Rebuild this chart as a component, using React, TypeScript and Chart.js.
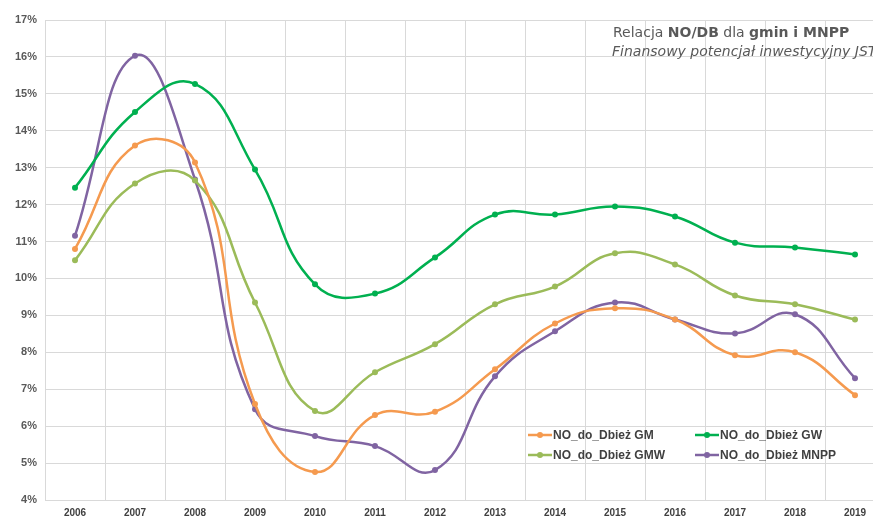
import React, { useEffect, useRef } from "react";
import { Chart, registerables } from "chart.js";

Chart.register(...registerables);

const years = ["2006","2007","2008","2009","2010","2011","2012","2013","2014","2015","2016","2017","2018","2019"];
const gm = [10.8, 13.6, 13.14, 6.6, 4.76, 6.3, 6.39, 7.54, 8.78, 9.19, 8.89, 7.92, 8.0, 6.84];
const gw = [12.46, 14.51, 15.27, 12.95, 9.84, 9.59, 10.57, 11.73, 11.73, 11.95, 11.68, 10.97, 10.84, 10.65];
const gmw = [10.49, 12.57, 12.65, 9.35, 6.41, 7.46, 8.22, 9.3, 9.78, 10.68, 10.38, 9.54, 9.3, 8.89];
const mnpp = [11.16, 16.03, 12.68, 6.46, 5.73, 5.46, 4.81, 7.35, 8.57, 9.35, 8.89, 8.51, 9.03, 7.3];

const seriesNames = ["NO_do_Dbież GM", "NO_do_Dbież GW", "NO_do_Dbież GMW", "NO_do_Dbież MNPP"];
const seriesColors = ["#F59A4F", "#00B050", "#9BBB59", "#8064A2"];
const titleParts: [string, boolean][] = [["Relacja ", false], ["NO/DB", true], [" dla ", false], ["gmin i MNPP", true]];
const subtitle = "Finansowy potencjał inwestycyjny JST";

const overlayPlugin = {
  id: "overlay",
  afterDraw(chart: any) {
    const ctx = chart.ctx;
    ctx.save();
    // title
    let x = 613;
    ctx.textBaseline = "alphabetic";
    ctx.fillStyle = "#595959";
    for (const [t, b] of titleParts) {
      ctx.font = (b ? "bold " : "") + "14px 'DejaVu Sans'";
      ctx.fillText(t, x, 37);
      x += ctx.measureText(t).width;
    }
    ctx.font = "italic 14px 'DejaVu Sans'";
    ctx.fillText(subtitle, 612, 56);
    // legend
    const pos = [[528, 435], [695, 435], [528, 455], [695, 455]];
    ctx.font = "bold 12px 'Liberation Sans'";
    ctx.textBaseline = "middle";
    for (let i = 0; i < 4; i++) {
      const [lx, ly] = pos[i];
      ctx.strokeStyle = seriesColors[i];
      ctx.lineWidth = 2.5;
      ctx.beginPath();
      ctx.moveTo(lx, ly);
      ctx.lineTo(lx + 24, ly);
      ctx.stroke();
      ctx.fillStyle = seriesColors[i];
      ctx.beginPath();
      ctx.arc(lx + 12, ly, 3, 0, Math.PI * 2);
      ctx.fill();
      ctx.fillStyle = "#404040";
      ctx.fillText(seriesNames[i], lx + 25, ly + 1);
    }
    ctx.restore();
  },
};

export default function App() {
  const ref = useRef<HTMLCanvasElement | null>(null);
  useEffect(() => {
    if (!ref.current) return;
    const data = [gm, gw, gmw, mnpp];
    const chart = new Chart(ref.current, {
      type: "line",
      data: {
        labels: years,
        datasets: data.map((d, i) => ({
          label: seriesNames[i],
          data: d,
          borderColor: seriesColors[i],
          backgroundColor: seriesColors[i],
          borderWidth: 2.5,
          pointRadius: 3,
          pointBorderWidth: 0,
          tension: 0.45,
          fill: false,
        })),
      },
      options: {
        responsive: false,
        animation: false,
        devicePixelRatio: 1,
        layout: { padding: { top: 20, right: 15, left: 0, bottom: 0 } },
        plugins: { legend: { display: false }, tooltip: { enabled: false }, title: { display: false } },
        scales: {
          x: {
            offset: true,
            afterFit(s: any) { s.height = 19; },
            grid: { color: "#d9d9d9", offset: true, drawTicks: false },
            border: { color: "#d9d9d9" },
            ticks: { color: "#404040", font: { family: "'Liberation Sans'", size: 10, weight: "bold" }, padding: 7, maxRotation: 0 },
          },
          y: {
            min: 4,
            max: 17,
            afterFit(s: any) { s.width = 45; },
            grid: { color: "#d9d9d9", drawTicks: false },
            border: { display: false },
            ticks: {
              stepSize: 1,
              color: "#595959",
              padding: 8,
              font: { family: "'Liberation Sans'", size: 11, weight: "bold" },
              callback: (v: any) => v + "%",
            },
          },
        },
      },
      plugins: [overlayPlugin],
    });
    return () => chart.destroy();
  }, []);
  return (
    <div style={{ position: "absolute", left: 0, top: 0, width: 873, height: 519, overflow: "hidden", background: "#fff" }}>
      <canvas ref={ref} width={900} height={519} style={{ display: "block" }} />
    </div>
  );
}
